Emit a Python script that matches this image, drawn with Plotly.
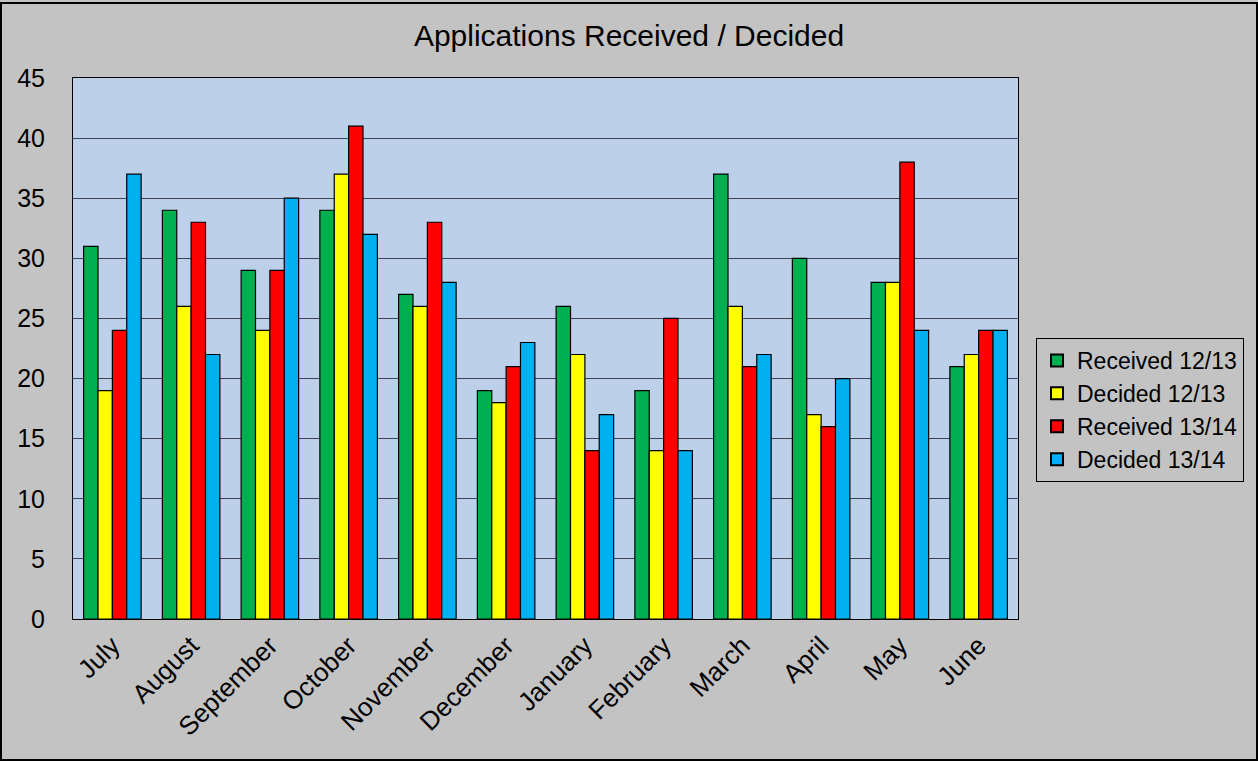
import plotly.graph_objects as go

months = ["July", "August", "September", "October", "November", "December",
          "January", "February", "March", "April", "May", "June"]
received_1213 = [31, 34, 29, 34, 27, 19, 26, 19, 37, 30, 28, 21]
decided_1213 = [19, 26, 24, 37, 26, 18, 22, 14, 26, 17, 28, 22]
received_1314 = [24, 33, 29, 41, 33, 21, 14, 25, 21, 16, 38, 24]
decided_1314 = [37, 22, 35, 32, 28, 23, 17, 14, 22, 20, 24, 24]

series = [
    ("Received 12/13", received_1213, "#00B050"),
    ("Decided 12/13", decided_1213, "#FFFF00"),
    ("Received 13/14", received_1314, "#FF0000"),
    ("Decided 13/14", decided_1314, "#00B0F0"),
]

fig = go.Figure()
for name, vals, col in series:
    fig.add_trace(go.Bar(name=name, x=months, y=vals,
                         marker=dict(color=col, line=dict(color="#000000", width=1.2))))

W, H = 1258, 761
L, R, T, B = 73, 240, 78, 142
pw, ph = W - L - R, H - T - B

fig.update_layout(
    width=W, height=H,
    margin=dict(l=L, r=R, t=T, b=B, pad=0),
    paper_bgcolor="#C3C3C3",
    plot_bgcolor="#BCD0E9",
    font=dict(family="Liberation Sans, Arial, sans-serif", color="#000000"),
    title=dict(text="Applications Received / Decided", x=0.5, xanchor="center",
               y=1 - 35 / H, yanchor="middle", font=dict(size=30)),
    barmode="group", bargap=0.27, bargroupgap=0.0,
    showlegend=True,
    legend=dict(x=1 + (1036 - L - pw) / pw, xanchor="left",
                y=1 - (410 - T) / ph, yanchor="middle",
                bgcolor="#C3C3C3", bordercolor="#000000", borderwidth=1,
                font=dict(size=23), tracegroupgap=0, itemsizing="constant"),
    xaxis=dict(tickangle=-45, tickfont=dict(size=26), showline=True, linecolor="#000000",
               linewidth=1, mirror=True, ticks="", showgrid=False),
    yaxis=dict(range=[0, 45], dtick=5, tickfont=dict(size=25), showgrid=True,
               gridcolor="#3E4454", gridwidth=1, showline=True, linecolor="#000000",
               linewidth=1, mirror=True, ticks="outside", ticklen=22,
               tickcolor="rgba(0,0,0,0)", zeroline=False),
    shapes=[dict(type="rect", xref="paper", yref="paper",
                 x0=-(L - 1) / pw, x1=1 + (R - 1) / pw,
                 y0=-(B - 1) / ph, y1=1 + (T - 3) / ph,
                 line=dict(color="#000000", width=2), layer="below")],
)

fig.write_html("out.html")
